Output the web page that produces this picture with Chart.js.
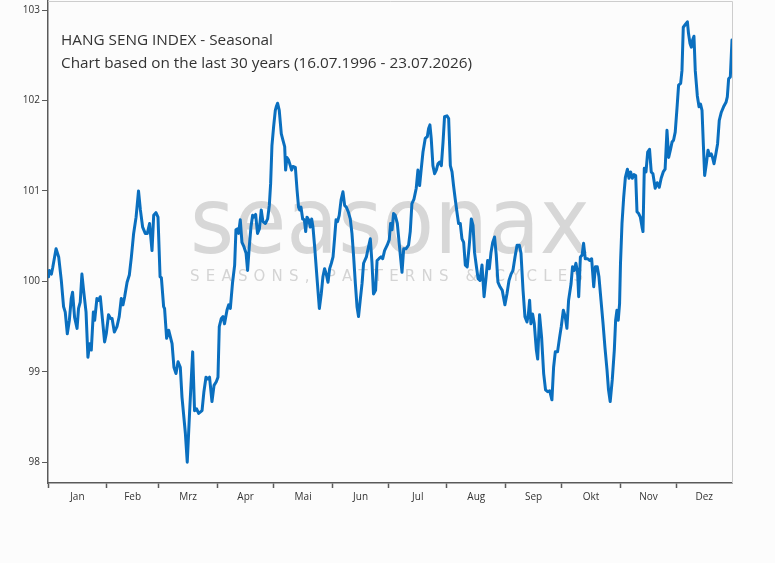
<!DOCTYPE html>
<html><head><meta charset="utf-8">
<script src="https://cdn.jsdelivr.net/npm/chart.js@4.4.1/dist/chart.umd.min.js"></script>
<style>html,body{margin:0;padding:0;background:#fcfcfc;}#wrap{width:775px;height:563px;}</style>
</head><body><div id="wrap"><canvas id="c" width="775" height="563"></canvas></div>
<script>
const titleLines = ['HANG SENG INDEX - Seasonal', 'Chart based on the last 30 years (16.07.1996 - 23.07.2026)'];
const watermarkWord = 'seasonax';
const watermarkSub = 'SEASONS, PATTERNS & CYCLES';
const monthLabels = ['Jan','Feb','Mrz','Apr','Mai','Jun','Jul','Aug','Sep','Okt','Nov','Dez'];
const monthStartDays = [0, 31.3, 59.0, 90.5, 120.4, 151.9, 181.7, 212.9, 244.2, 274.0, 305.5, 335.4];
const yearEndDay = 365;
const yTickValues = [98, 99, 100, 101, 102, 103];
const yMin = 97.77, yMax = 103.1;

const seasonalDays = [
0.3,0.7,1.8,2.5,4.3,5.7,7.1,8.3,9.2,10.3,
11.4,12.4,13.1,14.2,15.5,16.3,17.2,18.1,19.0,20.3,
21.3,22.2,23.1,24.2,24.9,26.1,27.0,27.9,29.1,30.2,
31.1,32.3,33.4,34.2,35.4,36.8,38.0,39.1,40.0,40.9,
42.2,43.4,44.5,45.7,47.0,48.3,49.3,50.5,51.9,53.0,
54.2,55.5,56.4,57.6,58.7,59.8,60.5,61.7,62.2,63.3,
64.4,66.2,67.2,68.3,69.4,70.6,71.5,73.3,74.3,75.6,
77.2,78.2,79.3,80.4,82.2,83.2,84.3,85.4,86.2,87.5,
88.6,89.8,90.7,91.4,92.5,93.4,94.2,95.5,96.4,97.3,
98.5,99.6,100.3,101.0,101.7,102.6,103.5,104.6,105.7,106.5,
107.4,108.3,109.2,109.9,110.8,111.8,112.8,113.8,114.7,116.0,
117.2,118.1,118.8,119.5,120.4,121.3,121.8,122.5,123.4,124.5,
125.4,126.3,126.8,127.5,128.4,129.3,130.0,130.7,132.0,132.9,
133.7,134.3,135.0,135.9,136.8,137.5,138.2,139.1,140.0,140.7,
141.4,142.3,143.5,144.8,145.8,146.7,147.6,148.5,149.4,150.3,
151.2,152.1,152.9,153.7,154.5,155.4,156.4,157.4,158.3,159.2,
160.2,161.3,162.2,163.1,164.0,164.9,165.7,166.6,167.6,168.4,
169.9,170.8,172.0,172.9,173.7,174.8,175.6,176.6,177.7,178.6,
179.6,181.0,182.1,182.8,183.6,184.4,185.3,186.4,187.5,188.9,
189.8,191.0,192.4,193.3,194.2,195.3,196.5,197.4,198.3,199.2,
200.1,201.3,202.4,203.1,203.8,204.5,205.4,206.3,207.2,208.1,
209.0,209.9,210.8,211.6,212.9,213.8,214.7,215.6,216.4,217.3,
218.2,219.1,220.0,220.9,221.8,222.7,223.7,224.8,225.9,226.8,
227.6,228.5,229.5,230.5,231.6,232.7,233.7,234.6,235.5,236.4,
237.3,238.3,239.2,240.1,241.2,242.4,243.8,244.9,246.0,247.1,
248.1,249.2,250.3,251.5,252.4,253.5,254.5,255.6,256.3,257.0,
257.7,258.6,259.5,260.6,261.3,262.3,263.4,264.5,265.5,266.6,
267.7,268.9,269.8,270.7,271.9,273.0,273.9,275.0,276.0,276.9,
277.8,279.1,279.9,280.8,281.7,282.6,283.2,284.1,285.0,285.8,
286.7,288.0,289.0,290.1,291.2,292.1,293.1,294.0,295.1,296.2,
297.2,298.3,299.1,300.0,301.1,302.2,302.9,303.6,304.3,305.0,
305.5,306.3,307.2,308.1,309.2,310.0,310.9,311.8,312.7,313.6,
314.3,315.2,316.1,317.0,317.5,318.2,319.1,320.0,321.0,321.9,
322.8,324.0,325.1,326.2,327.2,328.3,329.3,330.3,331.2,332.1,
333.0,333.8,334.7,335.7,336.5,337.6,338.3,339.0,340.1,341.2,
341.8,342.6,343.3,344.0,344.7,345.4,346.5,347.4,348.2,349.0,
349.7,350.4,351.3,352.2,353.0,353.9,354.6,355.4,356.4,357.3,
358.2,359.3,360.5,361.8,362.5,363.2,364.1,365.0
];
const seasonalValues = [
100.05,100.12,100.08,100.15,100.36,100.27,100.01,99.72,99.66,99.42,
99.57,99.81,99.88,99.60,99.48,99.70,99.77,100.08,99.90,99.66,
99.16,99.31,99.24,99.66,99.57,99.81,99.79,99.83,99.57,99.33,
99.42,99.63,99.59,99.59,99.44,99.50,99.61,99.81,99.74,99.83,
99.99,100.07,100.27,100.53,100.71,101.00,100.79,100.60,100.53,100.53,
100.64,100.34,100.73,100.76,100.71,100.05,100.04,99.72,99.70,99.37,
99.46,99.31,99.05,98.98,99.11,99.05,98.72,98.32,98.00,98.57,
99.22,98.57,98.59,98.54,98.57,98.78,98.94,98.92,98.94,98.67,
98.85,98.89,98.94,99.50,99.59,99.61,99.53,99.68,99.74,99.70,
99.99,100.18,100.57,100.58,100.53,100.68,100.43,100.38,100.31,100.12,
100.38,100.60,100.73,100.71,100.74,100.53,100.58,100.79,100.66,100.64,
100.69,100.84,101.08,101.50,101.71,101.89,101.93,101.97,101.89,101.63,
101.56,101.49,101.23,101.37,101.34,101.28,101.23,101.27,101.26,101.01,
100.82,100.79,100.82,100.69,100.68,100.55,100.71,100.68,100.60,100.69,
100.60,100.38,100.05,99.70,99.86,100.05,100.14,100.08,99.99,100.14,
100.20,100.27,100.47,100.68,100.66,100.73,100.90,100.99,100.84,100.82,
100.77,100.69,100.53,100.27,99.98,99.72,99.61,99.79,99.98,100.20,
100.27,100.36,100.47,100.20,99.86,99.90,100.23,100.25,100.27,100.25,
100.34,100.40,100.46,100.64,100.57,100.75,100.73,100.64,100.40,100.10,
100.36,100.36,100.40,100.55,100.86,100.91,101.03,101.23,101.06,101.25,
101.43,101.58,101.60,101.69,101.73,101.58,101.28,101.19,101.23,101.30,
101.32,101.28,101.54,101.82,101.83,101.80,101.28,101.21,101.06,100.91,
100.77,100.64,100.64,100.47,100.43,100.18,100.16,100.40,100.69,100.62,
100.32,100.18,100.03,100.01,100.18,99.83,100.03,100.23,100.14,100.32,
100.43,100.49,100.29,99.99,99.94,99.90,99.74,99.86,100.01,100.08,
100.12,100.27,100.40,100.40,100.31,99.90,99.61,99.55,99.63,99.79,
99.53,99.64,99.53,99.24,99.14,99.63,99.38,98.98,98.80,98.78,
98.79,98.69,99.05,99.22,99.22,99.38,99.50,99.68,99.61,99.48,
99.79,99.97,100.16,100.12,100.20,100.10,99.83,100.27,100.29,100.42,
100.25,100.25,100.23,100.25,99.94,100.16,100.16,100.05,99.79,99.53,
99.27,99.02,98.80,98.67,98.91,99.24,99.57,99.68,99.57,99.75,
100.20,100.64,100.93,101.15,101.24,101.14,101.21,101.14,101.18,101.17,
100.77,100.75,100.71,100.60,100.55,101.25,101.21,101.43,101.46,101.21,
101.19,101.03,101.09,101.04,101.14,101.21,101.24,101.67,101.37,101.45,
101.54,101.56,101.65,101.93,102.17,102.19,102.33,102.81,102.84,102.87,
102.74,102.63,102.59,102.67,102.71,102.33,102.05,101.93,101.96,101.89,
101.52,101.17,101.30,101.45,101.39,101.41,101.37,101.30,101.41,101.52,
101.78,101.87,101.93,101.98,102.04,102.24,102.26,102.67
];

const points = seasonalDays.map((d, i) => ({ x: d, y: seasonalValues[i] }));
const monthMidDays = monthStartDays.map((d, i) => (d + (i < monthStartDays.length - 1 ? monthStartDays[i + 1] : yearEndDay)) / 2);
const axisColor = '#5a5a5a';
const textColor = '#333333';
const FONT = '"Open Sans", "Noto Sans", sans-serif';

const decor = {
  id: 'decor',
  beforeDraw(chart) {
    const ctx = chart.ctx;
    ctx.save();
    ctx.fillStyle = '#fcfcfc';
    ctx.fillRect(0, 0, chart.width, chart.height);
    ctx.restore();
  },
  beforeDatasetsDraw(chart) {
    const { ctx, chartArea: a } = chart;
    ctx.save();
    // plot frame (top / right)
    ctx.strokeStyle = '#cdcdcd';
    ctx.lineWidth = 1;
    ctx.beginPath();
    ctx.moveTo(a.left, a.top + 0.5);
    ctx.lineTo(a.right + 0.5, a.top + 0.5);
    ctx.lineTo(a.right + 0.5, a.bottom);
    ctx.stroke();
    // watermark
    const wx = a.left + 142, ww = 400;
    ctx.fillStyle = '#d7d7d7';
    ctx.font = '92px "DejaVu Sans", sans-serif';
    ctx.textBaseline = 'alphabetic';
    ctx.textAlign = 'left';
    ctx.fillText(watermarkWord, wx, a.top + 252, ww);
    ctx.font = '15px "DejaVu Sans", sans-serif';
    ctx.fillStyle = '#d4d4d4';
    const chars = watermarkSub.split('');
    const widths = chars.map(c => ctx.measureText(c).width);
    const total = widths.reduce((s, v) => s + v, 0);
    const subW = 393;
    const gap = (subW - total) / (chars.length - 1);
    let cx = wx;
    chars.forEach((c, i) => { ctx.fillText(c, cx, a.top + 280); cx += widths[i] + gap; });
    // title
    ctx.fillStyle = textColor;
    ctx.font = '15.3px ' + FONT;
    ctx.fillText(titleLines[0], a.left + 13, a.top + 44);
    ctx.fillText(titleLines[1], a.left + 13, a.top + 67);
    ctx.restore();
  }
};

new Chart(document.getElementById('c'), {
  type: 'line',
  data: {
    datasets: [{
      data: points,
      borderColor: '#0a6fbf',
      borderWidth: 3,
      pointRadius: 0,
      pointHoverRadius: 0,
      tension: 0,
      fill: false,
      borderJoinStyle: 'round',
      borderCapStyle: 'round'
    }]
  },
  plugins: [decor],
  options: {
    responsive: false,
    animation: false,
    devicePixelRatio: 1,
    layout: { padding: { top: 1, right: 43, left: 0, bottom: 0 } },
    plugins: { legend: { display: false }, tooltip: { enabled: false }, title: { display: false } },
    scales: {
      x: {
        type: 'linear',
        min: 0,
        max: yearEndDay,
        afterBuildTicks(scale) {
          const vals = monthStartDays.concat(monthMidDays).sort((p, q) => p - q);
          scale.ticks = vals.map(v => ({ value: v }));
        },
        afterFit(scale) { scale.height = 80; scale.paddingLeft = 0; scale.paddingRight = 0; },
        ticks: {
          autoSkip: false,
          maxRotation: 0,
          minRotation: 0,
          padding: 3,
          color: textColor,
          font: { size: 10, family: FONT },
          callback(v) { const k = monthMidDays.indexOf(v); return k >= 0 ? monthLabels[k] : ''; }
        },
        grid: {
          drawOnChartArea: false,
          drawTicks: true,
          tickLength: 5,
          tickWidth: 1.5,
          tickColor: (c) => (c.tick && monthStartDays.includes(c.tick.value)) ? axisColor : 'rgba(0,0,0,0)'
        },
        border: { display: true, color: axisColor, width: 1.5 }
      },
      y: {
        min: yMin,
        max: yMax,
        afterBuildTicks(scale) { scale.ticks = yTickValues.map(v => ({ value: v })); },
        afterFit(scale) { scale.width = 48; scale.paddingTop = 0; scale.paddingBottom = 0; },
        ticks: { color: textColor, font: { size: 10, family: FONT }, padding: 2 },
        grid: { drawOnChartArea: false, drawTicks: true, tickLength: 6, tickWidth: 1, tickColor: axisColor },
        border: { display: true, color: axisColor, width: 1.5 }
      }
    }
  }
});
</script>
</body></html>
